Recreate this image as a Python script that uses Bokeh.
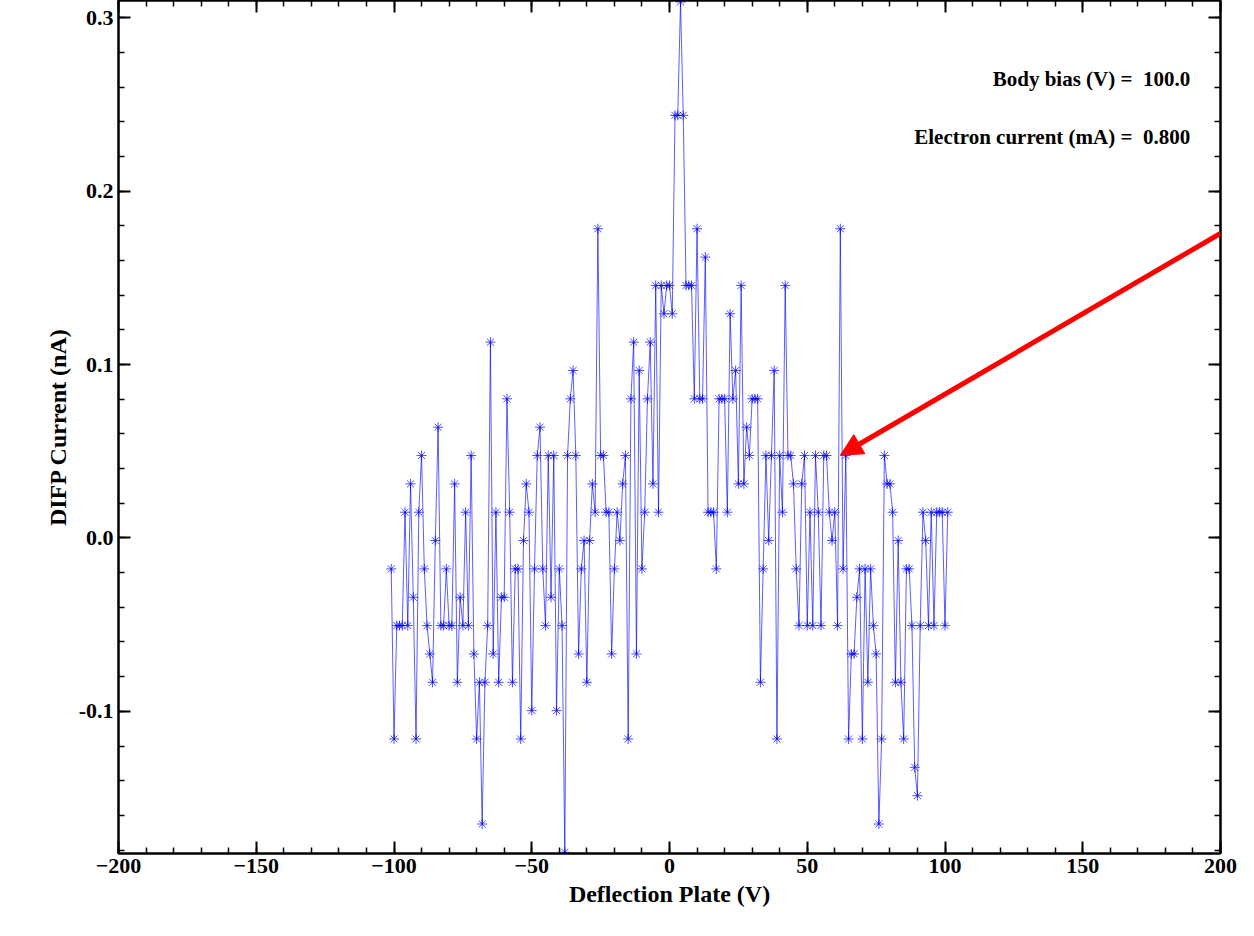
from bokeh.plotting import figure
from bokeh.models import Range1d, LinearAxis, Arrow, NormalHead, Label, FixedTicker, CustomJSTickFormatter
from bokeh.embed import file_html
from bokeh.resources import INLINE

levels = [-1,-7,-3,-3,-3,1,-3,2,-2,-7,1,3,-1,-3,-4,-5,0,4,-3,-3,-1,-3,-3,2,-5,-2,-3,1,-3,3,
          -4,-7,-5,-10,-5,-3,7,-4,1,-5,-2,-2,5,1,-5,-1,-1,-7,0,2,1,-6,-1,3,4,-1,-3,3,-2,3,
          -6,-1,-3,-11,3,5,6,3,-4,-1,0,-5,0,2,1,11,3,3,1,1,-4,-1,1,0,2,3,-7,5,7,-4,
          6,-1,1,5,7,2,9,1,9,8,9,9,8,15,15,19,15,9,9,9,5,11,5,5,10,1,1,1,-1,5,
          5,5,1,8,5,6,2,9,2,4,3,5,5,5,-5,-1,3,0,3,6,-7,3,1,9,3,3,2,-1,-3,2,
          3,-3,1,-3,3,1,-3,3,3,1,0,1,-3,11,-1,3,-7,-4,-4,-2,-1,-7,-1,-5,-1,-3,-4,-10,-7,3,
          2,2,1,-5,0,-5,-7,-1,-1,-3,-8,-9,-3,1,0,-3,1,-3,1,1,1,-3,1]
x_vals = [-101 + i for i in range(len(levels))]
y_vals = [-0.0015 + 0.01635 * k for k in levels]

F = "Liberation Serif"
p = figure(width=1240, height=920, output_backend="svg", toolbar_location=None,
           x_range=Range1d(-200, 200), y_range=Range1d(-0.182, 0.31),
           min_border_left=118, min_border_right=20, min_border_top=0, min_border_bottom=67)
p.grid.visible = False
p.outline_line_color = "black"
p.outline_line_width = 2

p.line(x_vals, y_vals, line_color="blue", line_width=0.8, line_alpha=0.8)
p.scatter(x_vals, y_vals, marker="asterisk", size=10, line_color="blue", line_alpha=0.7)

def style(ax):
    ax.major_tick_in = 12
    ax.major_tick_out = 0
    ax.minor_tick_in = 6
    ax.minor_tick_out = 0
    ax.axis_line_width = 2
    ax.major_tick_line_width = 2
    ax.minor_tick_line_width = 1.5
    ax.major_label_text_font = F
    ax.major_label_text_font_style = "bold"
    ax.major_label_text_font_size = "22px"
    ax.major_label_text_color = "black"
    ax.axis_label_text_font = F
    ax.axis_label_text_font_style = "bold"
    ax.axis_label_text_font_size = "24px"
    ax.axis_label_text_color = "black"

xt = FixedTicker(ticks=[-200,-150,-100,-50,0,50,100,150,200],
                 minor_ticks=list(range(-200, 201, 10)))
yt = FixedTicker(ticks=[-0.1, 0.0, 0.1, 0.2, 0.3],
                 minor_ticks=[round(-0.18 + 0.02 * i, 2) for i in range(25)])
p.xaxis.ticker = xt
p.yaxis.ticker = yt
p.xaxis.axis_label = "Deflection Plate (V)"
p.yaxis.axis_label = "DIFP Current (nA)"
p.yaxis.formatter = CustomJSTickFormatter(code="return tick.toFixed(1)")
style(p.xaxis[0]); style(p.yaxis[0])
blank = CustomJSTickFormatter(code="return ''")
top = LinearAxis(ticker=xt, formatter=blank); style(top); top.major_label_standoff = 0
right = LinearAxis(ticker=yt, formatter=blank); style(right); right.major_label_standoff = 0
p.add_layout(top, "above"); p.add_layout(right, "right")

for t, yv in [("Body bias (V) =\u00a0\u00a0100.0", 0.2645), ("Electron current (mA) =\u00a0\u00a00.800", 0.2314)]:
    p.add_layout(Label(x=189, y=yv, text=t, text_align="right", text_baseline="middle",
                       text_font=F, text_font_style="bold", text_font_size="21px",
                       text_color="black"))

p.add_layout(Arrow(x_start=200, y_start=0.1757, x_end=62.0, y_end=0.0477,
                   line_color="red", line_width=5,
                   end=NormalHead(size=22, fill_color="red", line_color="red")))

open("out.html", "w").write(file_html(p, INLINE))
